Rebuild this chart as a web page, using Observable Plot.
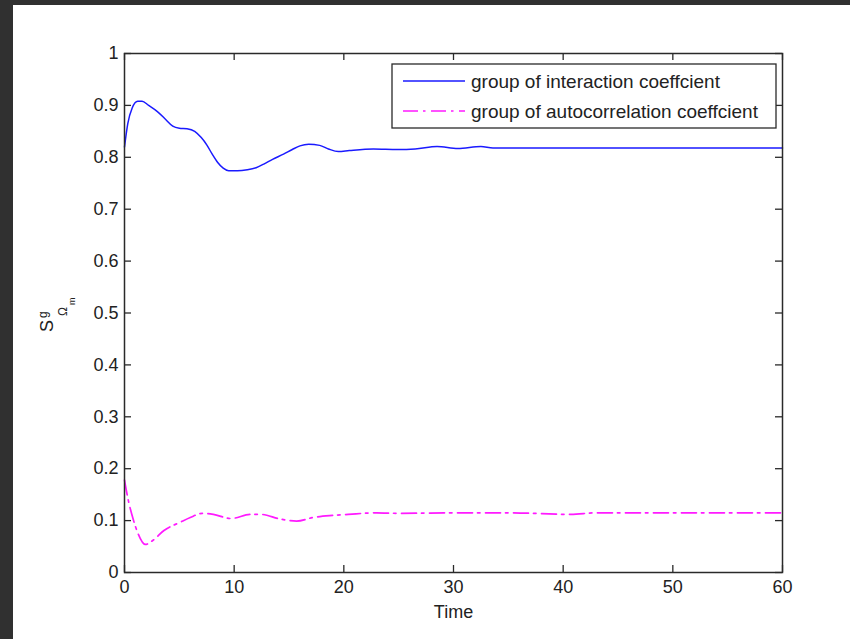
<!DOCTYPE html>
<html><head><meta charset="utf-8">
<script src="https://cdn.jsdelivr.net/npm/d3@7"></script>
<script src="https://cdn.jsdelivr.net/npm/@observablehq/plot@0.6"></script>
<style>
html,body{margin:0;padding:0;background:#303030;width:850px;height:639px;overflow:hidden;}
#fig{position:absolute;left:13px;top:5px;width:837px;height:634px;background:#fff;}
</style></head><body><div id="fig"></div>
<script>
// ---- data ----
const timeInteraction = [0, 0.3, 0.7, 1.2, 1.6, 2.2, 3.0, 3.8, 4.4, 5.0, 5.7, 6.4, 7.0, 7.5, 8.0, 8.5, 9.0, 9.5, 10.3, 11.2, 12.0, 12.7, 13.5, 14.5, 15.3, 16.0, 16.8, 17.8, 18.6, 19.5, 20.5, 22.7, 24.9, 26.5, 28.5, 30.4, 32.5, 33.6, 40, 50, 60];
const valInteraction  = [0.820, 0.865, 0.895, 0.908, 0.908, 0.900, 0.888, 0.872, 0.860, 0.856, 0.855, 0.850, 0.838, 0.824, 0.806, 0.790, 0.779, 0.774, 0.774, 0.776, 0.780, 0.787, 0.796, 0.806, 0.815, 0.822, 0.825, 0.823, 0.816, 0.811, 0.813, 0.816, 0.815, 0.816, 0.821, 0.817, 0.821, 0.818, 0.818, 0.818, 0.818];
const timeAuto = [0, 0.25, 0.8, 1.2, 1.9, 2.6, 3.6, 5.1, 6.0, 7.1, 8.1, 9.7, 11.5, 12.4, 14.2, 15.7, 17.2, 19.0, 20.4, 23, 25, 30, 35, 40.7, 43, 50, 60];
const valAuto  = [0.178, 0.149, 0.102, 0.077, 0.054, 0.062, 0.081, 0.097, 0.106, 0.114, 0.112, 0.104, 0.112, 0.112, 0.103, 0.099, 0.106, 0.110, 0.112, 0.115, 0.114, 0.115, 0.115, 0.112, 0.115, 0.115, 0.115];
const xTicks = [0, 10, 20, 30, 40, 50, 60];
const yTicks = [0, 0.1, 0.2, 0.3, 0.4, 0.5, 0.6, 0.7, 0.8, 0.9, 1];
const seriesNames  = ["group of interaction coeffcient", "group of autocorrelation coeffcient"];
const seriesColors = ["#1a1aff", "#ff1aff"];
const xLabel = "Time";

const interaction = timeInteraction.map((t, i) => ({t, v: valInteraction[i]}));
const autoc = timeAuto.map((t, i) => ({t, v: valAuto[i]}));

const W = 837, H = 634, mL = 111, mR = 68, mT = 48, mB = 67;
const plotW = W - mL - mR, plotH = H - mT - mB;
const axisColor = "#2a2a2a";
const font = "'Liberation Sans', Arial, Helvetica, sans-serif";
const dashDot = "15,5,2.5,5.5";

const chart = Plot.plot({
  width: W, height: H,
  marginLeft: mL, marginRight: mR, marginTop: mT, marginBottom: mB,
  style: {fontFamily: font, fontSize: "18px", background: "#fff", color: "#222"},
  x: {domain: [0, 60]},
  y: {domain: [0, 1]},
  marks: [
    Plot.line(interaction, {x: "t", y: "v", stroke: seriesColors[0], strokeWidth: 1.5, curve: "monotone-x"}),
    Plot.line(autoc, {x: "t", y: "v", stroke: seriesColors[1], strokeWidth: 1.7, strokeDasharray: dashDot, curve: "monotone-x"}),
    Plot.ruleX(xTicks, {x: d => d, insetTop: plotH - 7, stroke: axisColor, strokeWidth: 1.3}),
    Plot.ruleX(xTicks, {x: d => d, insetBottom: plotH - 7, stroke: axisColor, strokeWidth: 1.3}),
    Plot.ruleY(yTicks, {y: d => d, insetRight: plotW - 7, stroke: axisColor, strokeWidth: 1.3}),
    Plot.ruleY(yTicks, {y: d => d, insetLeft: plotW - 7, stroke: axisColor, strokeWidth: 1.3}),
    Plot.frame({stroke: axisColor, strokeWidth: 1.5}),
    Plot.axisX(xTicks, {tickSize: 0, tickPadding: 8, label: null, tickFormat: d => String(d), fill: "#222"}),
    Plot.axisY(yTicks, {tickSize: 0, tickPadding: 6, label: null, tickFormat: d => String(+d.toFixed(1)), fill: "#222"}),
    Plot.text([xLabel], {text: d => d, frameAnchor: "bottom", lineAnchor: "top", dy: 33, fill: "#222", fontSize: 18})
  ]
});
document.getElementById("fig").appendChild(chart);

// y-axis label S^g_{Omega_m}, rotated
const svg = d3.select(chart);
const yl = svg.append("g").attr("transform", "translate(40,328) rotate(-90)")
  .attr("font-family", font).attr("fill", "#222").attr("text-anchor", "start");
yl.append("text").attr("x", 1).attr("y", 0).attr("font-size", 18).text("S");
yl.append("text").attr("x", 15).attr("y", -6).attr("font-size", 12).text("g");
yl.append("text").attr("x", 17).attr("y", 14).attr("font-size", 12).text("Ω");
yl.append("text").attr("x", 28).attr("y", 22).attr("font-size", 9).text("m");

// legend box
const lg = svg.append("g").attr("font-family", font).attr("font-size", 19).attr("text-anchor", "start");
lg.append("rect").attr("x", 379).attr("y", 59).attr("width", 384).attr("height", 64)
  .attr("fill", "#fff").attr("stroke", axisColor).attr("stroke-width", 1.3);
seriesNames.forEach((name, i) => {
  const y = 76 + i * 30;
  lg.append("line").attr("x1", 390).attr("x2", 452).attr("y1", y).attr("y2", y)
    .attr("stroke", seriesColors[i]).attr("stroke-width", i ? 1.7 : 1.5)
    .attr("stroke-dasharray", i ? dashDot : null);
  lg.append("text").attr("x", 458).attr("y", y).attr("dy", "0.35em").attr("fill", "#222").text(name);
});
</script></body></html>
